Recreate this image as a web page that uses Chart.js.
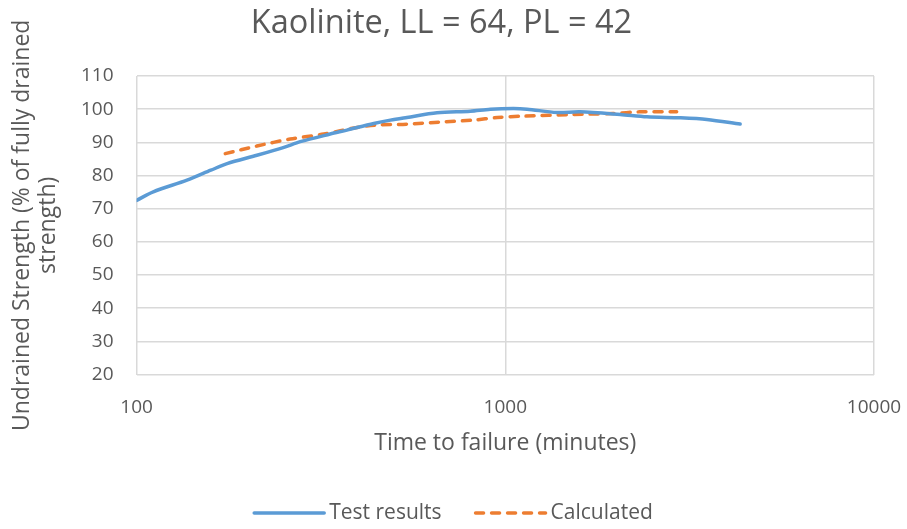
<!DOCTYPE html>
<html lang="en">
<head>
    <meta charset="UTF-8">
    <title>Kaolinite, LL = 64, PL = 42</title>
    <script src="https://cdn.jsdelivr.net/npm/chart.js"></script>
    <style>
        body {
            margin: 0;
            background-color: #fff;
        }
        canvas {
            display: block;
        }
    </style>
</head>
<body>
    <canvas id="strengthChart" width="907" height="529"></canvas>

    <script>
        // Test results: time to failure (minutes) and undrained strength (%)
        var testTimes = [100, 111, 137, 159, 176, 212, 251, 278, 335, 372, 440, 488, 541, 653, 804, 911, 1052, 1146, 1381, 1596, 2050, 2422, 2980, 3522, 4335];
        var testStrength = [72.5, 75.1, 78.6, 81.6, 83.6, 86.1, 88.5, 90.2, 92.5, 93.7, 95.7, 96.7, 97.5, 98.9, 99.4, 100.0, 100.2, 100.0, 99.0, 99.2, 98.4, 97.7, 97.4, 96.9, 95.5];

        // Calculated curve
        var calcTimes = [174, 212, 261, 322, 396, 448, 541, 664, 818, 951, 1123, 1529, 1958, 2313, 2916];
        var calcStrength = [86.6, 88.9, 91.0, 92.5, 94.5, 95.2, 95.5, 96.1, 96.7, 97.5, 97.9, 98.4, 98.7, 99.2, 99.2];

        var xTickValues = [100, 1000, 10000];

        function toPoints(xs, ys) {
            return xs.map(function (x, i) { return { x: x, y: ys[i] }; });
        }

        var textColor = '#595959';
        var gridColor = '#d9d9d9';
        var fontFamily = "'Open Sans', sans-serif";

        // Bottom legend with long line samples (the built-in one can't space items
        // apart horizontally without also growing vertically)
        var lineLegend = {
            id: 'lineLegend',
            afterDraw: function (chart) {
                var c = chart.ctx;
                var sample = 70, textGap = 5, itemGap = 34;
                var y = 513;
                c.save();
                c.font = '21px ' + fontFamily;
                var widths = chart.data.datasets.map(function (ds) {
                    return sample + textGap + c.measureText(ds.label).width;
                });
                var total = widths.reduce(function (a, b) { return a + b; }, 0) + itemGap * (widths.length - 1);
                var x = chart.width / 2 - total / 2;
                chart.data.datasets.forEach(function (ds, i) {
                    c.beginPath();
                    c.strokeStyle = ds.borderColor;
                    c.lineWidth = ds.borderWidth;
                    c.lineCap = 'round';
                    c.setLineDash(ds.borderDash || []);
                    c.moveTo(x, y);
                    c.lineTo(x + sample, y);
                    c.stroke();
                    c.setLineDash([]);
                    c.fillStyle = textColor;
                    c.textBaseline = 'middle';
                    c.textAlign = 'left';
                    c.fillText(ds.label, x + sample + textGap, y);
                    x += widths[i] + itemGap;
                });
                c.restore();
            }
        };

        var ctx = document.getElementById('strengthChart').getContext('2d');
        var chart = new Chart(ctx, {
            type: 'line',
            data: {
                datasets: [{
                    label: 'Test results',
                    data: toPoints(testTimes, testStrength),
                    borderColor: '#5b9bd5',
                    backgroundColor: '#5b9bd5',
                    borderWidth: 3.5,
                    pointRadius: 0,
                    tension: 0.3,
                    borderCapStyle: 'round'
                }, {
                    label: 'Calculated',
                    data: toPoints(calcTimes, calcStrength),
                    borderColor: '#ed7d31',
                    backgroundColor: '#ed7d31',
                    borderWidth: 3.5,
                    borderDash: [8, 8],
                    borderCapStyle: 'round',
                    pointRadius: 0,
                    tension: 0.3
                }]
            },
            plugins: [lineLegend],
            options: {
                responsive: false,
                animation: false,
                layout: {
                    padding: { left: 9, right: 33, top: 0, bottom: 28 }
                },
                plugins: {
                    title: {
                        display: true,
                        text: 'Kaolinite, LL = 64, PL = 42',
                        color: textColor,
                        font: { family: fontFamily, size: 32.5, weight: 'normal', lineHeight: 1.2 },
                        padding: { top: 4, bottom: 33 }
                    },
                    legend: { display: false },
                    tooltip: { enabled: false }
                },
                scales: {
                    x: {
                        type: 'logarithmic',
                        min: 100,
                        max: 10000,
                        afterBuildTicks: function (axis) {
                            axis.ticks = xTickValues.map(function (v) { return { value: v }; });
                        },
                        // tick padding would otherwise widen the right margin too
                        afterFit: function (axis) {
                            axis.paddingRight = 0;
                        },
                        ticks: {
                            color: textColor,
                            font: { family: fontFamily, size: 19 },
                            padding: 22,
                            maxRotation: 0,
                            callback: function (value) { return String(value); }
                        },
                        grid: { color: gridColor, lineWidth: 1.5, drawTicks: false },
                        border: { display: false },
                        title: {
                            display: true,
                            text: 'Time to failure (minutes)',
                            color: textColor,
                            font: { family: fontFamily, size: 23, lineHeight: 1.2 },
                            padding: { top: -12, bottom: 44 }
                        }
                    },
                    y: {
                        min: 20,
                        max: 110,
                        ticks: {
                            stepSize: 10,
                            color: textColor,
                            font: { family: fontFamily, size: 19 },
                            padding: 23
                        },
                        grid: { color: gridColor, lineWidth: 1.5, drawTicks: false },
                        border: { display: false },
                        title: {
                            display: true,
                            text: ['Undrained Strength (% of fully drained', 'strength)'],
                            color: textColor,
                            font: { family: fontFamily, size: 23, lineHeight: 1.13 },
                            padding: { top: 0, bottom: -3 }
                        }
                    }
                }
            }
        });
    </script>
</body>
</html>
